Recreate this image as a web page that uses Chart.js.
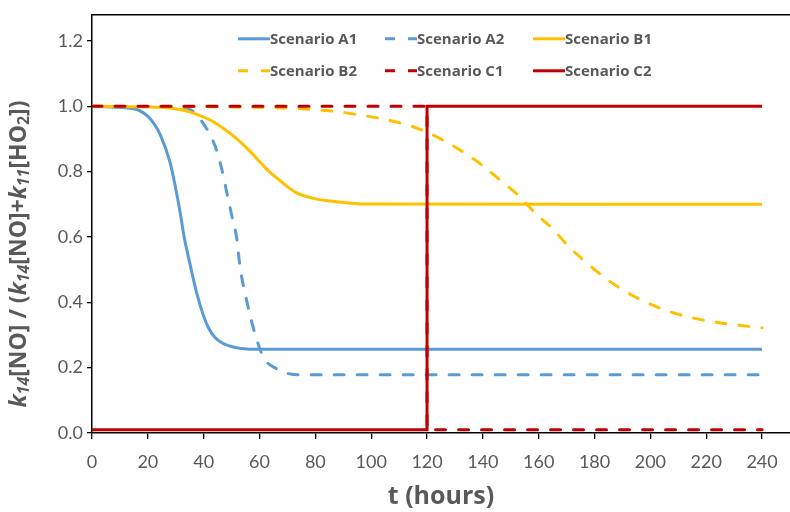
<!DOCTYPE html>
<html>
<head>
<meta charset="utf-8">
<script src="https://cdn.jsdelivr.net/npm/chart.js@4.4.1/dist/chart.umd.min.js"></script>
<style>
  html, body { margin: 0; padding: 0; background: #fff; }
  #wrap { width: 790px; height: 512px; }
</style>
</head>
<body>
<div id="wrap"><canvas id="chart"></canvas></div>
<script>
// tick labels
const xTicks = [0, 20, 40, 60, 80, 100, 120, 140, 160, 180, 200, 220, 240];
const yTicks = [0, 0.2, 0.4, 0.6, 0.8, 1.0, 1.2];

// series values (t in hours, ratio)
const tA1 = [0, 8, 16, 20, 22, 24.4, 28, 29.8, 31.6, 33, 34.5, 35.8, 37.6, 39.9, 41.7, 44, 46.5, 50.6, 55.4, 60, 240];
const vA1 = [1.0, 0.997, 0.99, 0.969, 0.949, 0.914, 0.827, 0.756, 0.674, 0.6, 0.54, 0.49, 0.425, 0.36, 0.322, 0.293, 0.276, 0.263, 0.257, 0.256, 0.256];

const tA2 = [0, 30, 35.2, 40.5, 44.1, 46.5, 48.3, 50.1, 51.9, 53, 55.4, 58.4, 61.4, 66.2, 69.7, 74, 240];
const vA2 = [1.0, 0.998, 0.99, 0.939, 0.878, 0.807, 0.735, 0.664, 0.593, 0.51, 0.405, 0.303, 0.232, 0.196, 0.183, 0.178, 0.178];

const tB1 = [0, 20, 29.2, 35.2, 42.3, 47.1, 51.9, 56.6, 62.6, 67.4, 73.3, 79.3, 85.2, 91.2, 97.1, 240];
const vB1 = [1.0, 0.998, 0.993, 0.982, 0.958, 0.932, 0.9, 0.862, 0.807, 0.772, 0.735, 0.718, 0.71, 0.705, 0.701, 0.70];

const tB2 = [0, 67.4, 86.4, 94.8, 102.5, 110.3, 118.6, 126.4, 133.5, 140.1, 146.6, 153, 159.2, 165.1, 170.5, 177, 183.6, 190.1, 197.3, 205, 212.8, 221.2, 229.5, 240];
const vB2 = [1.0, 0.995, 0.985, 0.975, 0.964, 0.949, 0.926, 0.893, 0.857, 0.817, 0.771, 0.725, 0.669, 0.624, 0.573, 0.522, 0.476, 0.438, 0.405, 0.377, 0.357, 0.342, 0.332, 0.322];

const tC1 = [0, 120, 120, 240];
const vC1 = [1.0, 1.0, 0.01, 0.01];

const tC2 = [0, 120, 120, 240];
const vC2 = [0.01, 0.01, 1.0, 1.0];

const BLUE = '#5B9BD5';
const GOLD = '#FFC000';
const RED = '#C00000';
const GREY = '#595959';
const FONT = 'Lato, "Open Sans", sans-serif';
const BOLD_FONT = '"Open Sans", Lato, sans-serif';
const DASH = [10, 13];

const toPoints = (ts, vs) => ts.map((t, i) => ({ x: t, y: vs[i] }));

const makeSet = (label, ts, vs, color, dashed, order, smooth) => ({
  label: label,
  data: toPoints(ts, vs),
  borderColor: color,
  backgroundColor: color,
  borderWidth: 3,
  borderDash: dashed ? DASH : [],
  borderCapStyle: dashed ? 'round' : 'butt',
  pointRadius: 0,
  fill: false,
  tension: 0,
  cubicInterpolationMode: smooth ? 'monotone' : 'default',
  order: order
});

const datasets = [
  makeSet('Scenario A1', tA1, vA1, BLUE, false, 3, true),
  makeSet('Scenario A2', tA2, vA2, BLUE, true, 3, true),
  makeSet('Scenario B1', tB1, vB1, GOLD, false, 2, true),
  makeSet('Scenario B2', tB2, vB2, GOLD, true, 2, true),
  makeSet('Scenario C1', tC1, vC1, RED, true, 1, false),
  makeSet('Scenario C2', tC2, vC2, RED, false, 0, false)
];

// top border of the plot box
const frame = {
  id: 'frame',
  afterDraw(chart) {
    const { ctx, chartArea } = chart;
    ctx.save();
    ctx.strokeStyle = '#000';
    ctx.lineWidth = 1.5;
    ctx.beginPath();
    ctx.moveTo(chartArea.left, chartArea.top);
    ctx.lineTo(chartArea.right, chartArea.top);
    ctx.stroke();
    ctx.restore();
  }
};

// legend inside the plot, 3 columns x 2 rows
const innerLegend = {
  id: 'innerLegend',
  afterDatasetsDraw(chart) {
    const { ctx, chartArea } = chart;
    const cols = [146, 293, 441];
    const rows = [24, 56];
    ctx.save();
    ctx.font = 'bold 15px ' + BOLD_FONT;
    ctx.fillStyle = GREY;
    ctx.textBaseline = 'middle';
    chart.data.datasets.forEach((ds, i) => {
      const x = chartArea.left + cols[i % 3];
      const y = chartArea.top + rows[Math.floor(i / 3)];
      ctx.strokeStyle = ds.borderColor;
      ctx.lineWidth = 3;
      ctx.lineCap = 'butt';
      ctx.setLineDash(ds.borderDash);
      ctx.beginPath();
      ctx.moveTo(x, y);
      ctx.lineTo(x + 32, y);
      ctx.stroke();
      ctx.setLineDash([]);
      ctx.fillText(ds.label, x + 32, y + 1);
    });
    ctx.restore();
  }
};

// y axis title with italic k and subscripts
const yTitle = {
  id: 'yTitle',
  afterDraw(chart) {
    const { ctx } = chart;
    const big = 23, small = 16;
    const parts = [
      ['k', 'italic bold', big, 0],
      ['14', 'italic bold', small, 5],
      ['[NO] / (', 'bold', big, 0],
      ['k', 'italic bold', big, 0],
      ['14', 'italic bold', small, 5],
      ['[NO]+', 'bold', big, 0],
      ['k', 'italic bold', big, 0],
      ['11', 'italic bold', small, 5],
      ['[HO', 'bold', big, 0],
      ['2', 'bold', small, 5],
      ['])', 'bold', big, 0]
    ];
    ctx.save();
    let total = 0;
    parts.forEach(p => {
      ctx.font = p[1] + ' ' + p[2] + 'px ' + BOLD_FONT;
      total += ctx.measureText(p[0]).width;
    });
    ctx.translate(19, 254);
    ctx.rotate(-Math.PI / 2);
    ctx.fillStyle = GREY;
    ctx.textBaseline = 'middle';
    let x = -total / 2;
    parts.forEach(p => {
      ctx.font = p[1] + ' ' + p[2] + 'px ' + BOLD_FONT;
      ctx.fillText(p[0], x, p[3]);
      x += ctx.measureText(p[0]).width;
    });
    ctx.restore();
  }
};

new Chart(document.getElementById('chart'), {
  type: 'line',
  data: { datasets: datasets },
  options: {
    responsive: true,
    maintainAspectRatio: false,
    animation: false,
    layout: { padding: { top: 12, right: 0, left: 0, bottom: 0 } },
    plugins: {
      legend: { display: false },
      tooltip: { enabled: false }
    },
    scales: {
      x: {
        type: 'linear',
        min: 0,
        max: 250,
        afterBuildTicks: (scale) => { scale.ticks = xTicks.map(v => ({ value: v })); },
        afterFit: (scale) => { scale.height = 79; },
        border: { color: '#000', width: 1.5 },
        grid: { drawOnChartArea: false, color: '#000', tickLength: 6, lineWidth: 1.3 },
        ticks: { color: GREY, font: { family: FONT, size: 18 }, padding: 12, maxRotation: 0 },
        title: {
          display: true,
          text: 't (hours)',
          color: GREY,
          font: { family: BOLD_FONT, size: 25, weight: 'bold' },
          padding: { top: 0, bottom: 0 }
        }
      },
      y: {
        min: 0,
        max: 1.28,
        afterBuildTicks: (scale) => { scale.ticks = yTicks.map(v => ({ value: v })); },
        afterFit: (scale) => { scale.width = 92; },
        border: { color: '#000', width: 1.5 },
        grid: { drawOnChartArea: false, color: '#000', tickLength: 5, lineWidth: 1.3 },
        ticks: {
          color: GREY,
          font: { family: FONT, size: 18 },
          padding: 4,
          callback: (v) => v.toFixed(1)
        }
      }
    }
  },
  plugins: [frame, innerLegend, yTitle]
});
</script>
</body>
</html>
